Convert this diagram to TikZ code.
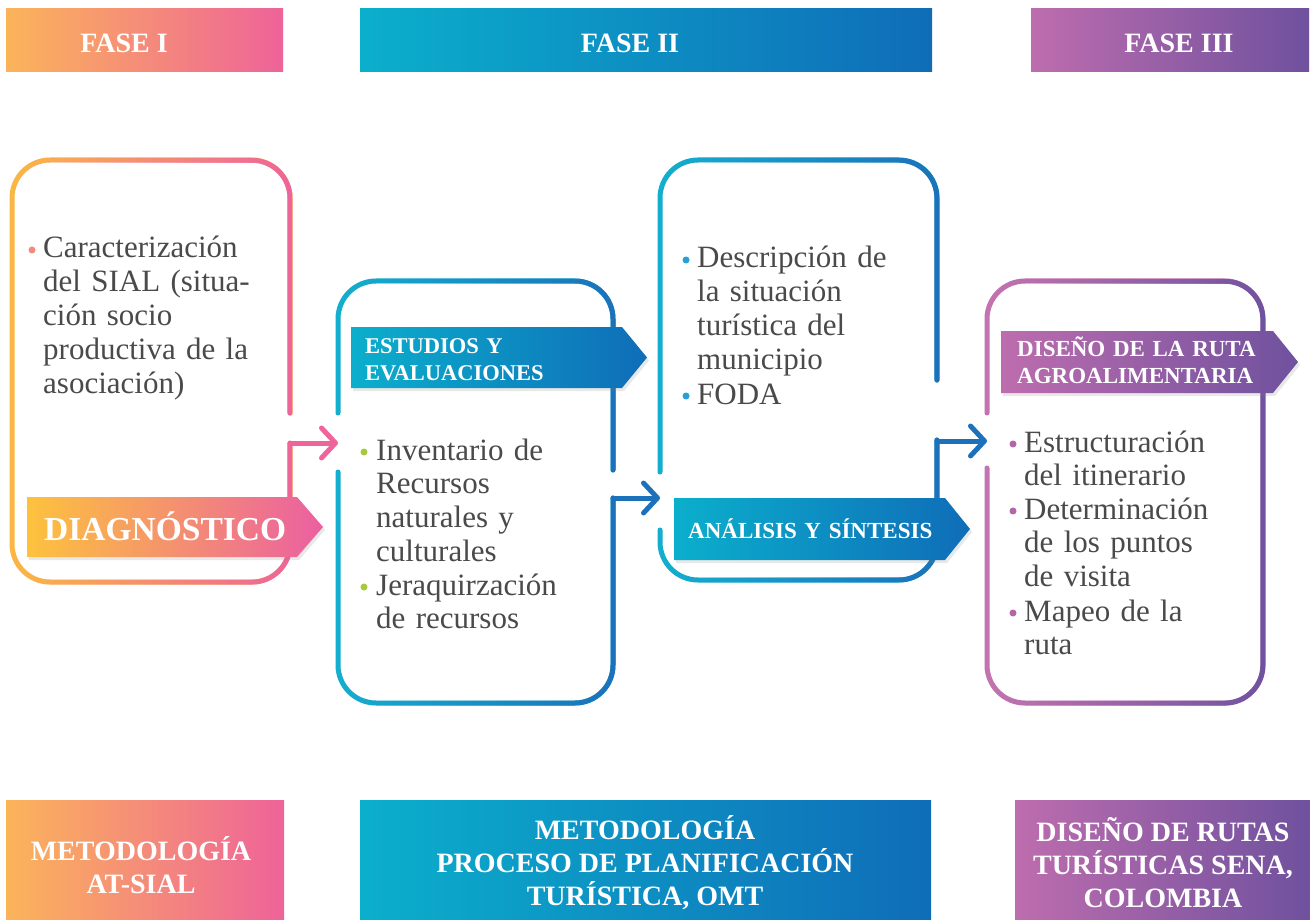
\documentclass[tikz,border=0pt]{standalone}
\usepackage{fontspec}
\setmainfont{Liberation Serif}
\usetikzlibrary{arrows.meta,fadings,shadows}
\definecolor{oA}{HTML}{FBB45A}
\definecolor{pB}{HTML}{EE6399}
\definecolor{oL}{HTML}{FBB843}
\definecolor{pL}{HTML}{EE649B}
\definecolor{dY}{HTML}{FDC23D}
\definecolor{dP}{HTML}{EB5FA2}
\definecolor{cA}{HTML}{0BAFCC}
\definecolor{bB}{HTML}{0F6DB8}
\definecolor{cL}{HTML}{14AFCF}
\definecolor{bL}{HTML}{1C72BA}
\definecolor{mA}{HTML}{BD6DAE}
\definecolor{vB}{HTML}{6F519E}
\definecolor{mL}{HTML}{C574B0}
\definecolor{vL}{HTML}{6F53A0}
\definecolor{txt}{HTML}{4A4A4C}
\definecolor{dot1}{HTML}{F28B7D}
\definecolor{dot2}{HTML}{A8C93A}
\definecolor{dot3}{HTML}{2A9FD6}
\definecolor{dot4}{HTML}{B467A8}
\tikzfading[name=fadeR, left color=transparent!100, right color=transparent!0]
\newcommand\gborder[3]{\draw[border,#1] #3; \draw[border,#2,path fading=fadeR] #3;}
\begin{document}
\begin{tikzpicture}[x=1pt,y=-1pt,
  border/.style={line width=5pt, line cap=round, rounded corners=38pt},
  conn/.style={line width=5pt, line cap=round, -{Straight Barb[length=14pt,width=30pt,round]}},
  geo/.style={inner sep=0pt, outer sep=0pt},
  bar/.style={inner sep=0pt, outer sep=0pt},
  bartext/.style={text=white, font=\bfseries\fontsize{28}{33}\selectfont, align=center, inner sep=0pt},
  banner/.style={drop shadow={opacity=0.18, shadow xshift=2pt, shadow yshift=-3pt}},
  bantext/.style={text=white, font=\bfseries\fontsize{#1}{27}\selectfont, anchor=base west, inner sep=0pt, text width=300pt, align=left},
  body/.style={text=txt, font=\fontsize{31}{33.9}\selectfont, anchor=base west, inner sep=0pt, text width=270pt, align=left},
  bullet/.style={circle, inner sep=0pt, minimum size=7pt, fill=#1}
]
\useasboundingbox (0,0) rectangle (1310,920);
\fill[white] (0,0) rectangle (1310,920);

% header bars
\node[bar, left color=oA, right color=pB, minimum width=277pt, minimum height=63pt] (f1) at (144.5,40.5) {};
\node[bar, left color=cA, right color=bB, minimum width=572pt, minimum height=63pt] (f2) at (646,40.5) {};
\node[bar, left color=mA, right color=vB, minimum width=278pt, minimum height=63pt] (f3) at (1170,40.5) {};
\node[bartext] (f1t) at (124,43) {FASE I};
\node[bartext] (f2t) at (630,43) {FASE II};
\node[bartext] (f3t) at (1179,43) {FASE III};

% bottom bars
\node[bar, left color=oA, right color=pB, minimum width=278pt, minimum height=120pt] (m1) at (145,860) {};
\node[bar, left color=cA, right color=bB, minimum width=571pt, minimum height=120pt] (m2) at (645.5,860) {};
\node[bar, left color=mA, right color=vB, minimum width=295pt, minimum height=120pt] (m3) at (1162.5,860) {};
\node[bartext] (m1t) at (141,865) {METODOLOGÍA\\AT-SIAL};
\node[bartext] (m2t) at (645,863) {METODOLOGÍA\\PROCESO DE PLANIFICACIÓN\\TURÍSTICA, OMT};
\node[bartext] (m3t) at (1163,863) {DISEÑO DE RUTAS\\TURÍSTICAS SENA,\\COLOMBIA};

% box geometry
\node[geo, minimum width=278pt, minimum height=422pt] (b1) at (151,371) {};
\node[geo, minimum width=275pt, minimum height=422pt] (b2) at (475.5,492) {};
\node[geo, minimum width=277pt, minimum height=420pt] (b3) at (798.5,370) {};
\node[geo, minimum width=276pt, minimum height=422pt] (b4) at (1125,492) {};

% box borders
\gborder{oL}{pL}{(b1.east |- 0,413) -- (b1.north east) -- (b1.north west) -- (b1.south west) -- (b1.south east) -- (b1.east |- 0,443)}
\gborder{cL}{bL}{(b2.east |- 0,470) -- (b2.north east) -- (b2.north west) -- (b2.west |- 0,413)}
\gborder{cL}{bL}{(b2.west |- 0,472) -- (b2.south west) -- (b2.south east) -- (b2.east |- 0,498)}
\gborder{cL}{bL}{(b3.east |- 0,380) -- (b3.north east) -- (b3.north west) -- (b3.west |- 0,472)}
\gborder{cL}{bL}{(b3.west |- 0,530) -- (b3.south west) -- (b3.south east) -- (b3.east |- 0,440)}
\gborder{mL}{vL}{(b4.west |- 0,413) -- (b4.north west) -- (b4.north east) -- (b4.south east) -- (b4.south west) -- (b4.west |- 0,468)}

% connectors
\draw[conn, pL] (b1.east |- 0,443) -- (b2.west |- 0,443);
\draw[conn, bL] (b2.east |- 0,498) -- (b3.west |- 0,498);
\draw[conn, bL] (b3.east |- 0,441) -- (b4.west |- 0,441);

% banners
\path[banner, left color=dY, right color=dP] (27,497) -- (297,497) -- (323,527) -- (297,557) -- (27,557) -- cycle;
\path[banner, left color=cA, right color=bB] (351,327) -- (622,327) -- (647,357.5) -- (622,388) -- (351,388) -- cycle;
\path[banner, left color=cA, right color=bB] (674,498) -- (945,498) -- (970,529) -- (945,560) -- (674,560) -- cycle;
\path[banner, left color=mA, right color=vB] (1001,331) -- (1273,331) -- (1298,362) -- (1273,393) -- (1001,393) -- cycle;
\node[bantext=33.5] (diagT) at (44,540) {DIAGNÓSTICO};
\node[bantext=22.5] (estT) at (365,353) {ESTUDIOS Y\\EVALUACIONES};
\node[bantext=23] (anaT) at (688,538) {ANÁLISIS Y SÍNTESIS};
\node[bantext=23] (disT) at (1017,356) {DISEÑO DE LA RUTA\\AGROALIMENTARIA};

% body text
\node[bullet=dot1] (d1) at (32,250) {};
\node[body] (t1) at (43,258) {Caracterización\\del SIAL (situa-\\ción socio\\productiva de la\\asociación)};
\node[bullet=dot2] (d2a) at (364,452) {};
\node[body] (t2a) at (376,460) {Inventario de\\Recursos\\naturales y\\culturales};
\node[bullet=dot2] (d2b) at (364,587) {};
\node[body] (t2b) at (376,595) {Jeraquirzación\\de recursos};
\node[bullet=dot3] (d3a) at (686,260) {};
\node[body] (t3a) at (697,268) {Descripción de\\la situación\\turística del\\municipio};
\node[bullet=dot3] (d3b) at (686,396) {};
\node[body] (t3b) at (697,404) {FODA};
\node[bullet=dot4] (d4a) at (1013,444) {};
\node[body] (t4a) at (1024,452) {Estructuración\\del itinerario};
\node[bullet=dot4] (d4b) at (1013,511) {};
\node[body] (t4b) at (1024,519) {Determinación\\de los puntos\\de visita};
\node[bullet=dot4] (d4c) at (1013,613) {};
\node[body] (t4c) at (1024,621) {Mapeo de la\\ruta};
\end{tikzpicture}
\end{document}
